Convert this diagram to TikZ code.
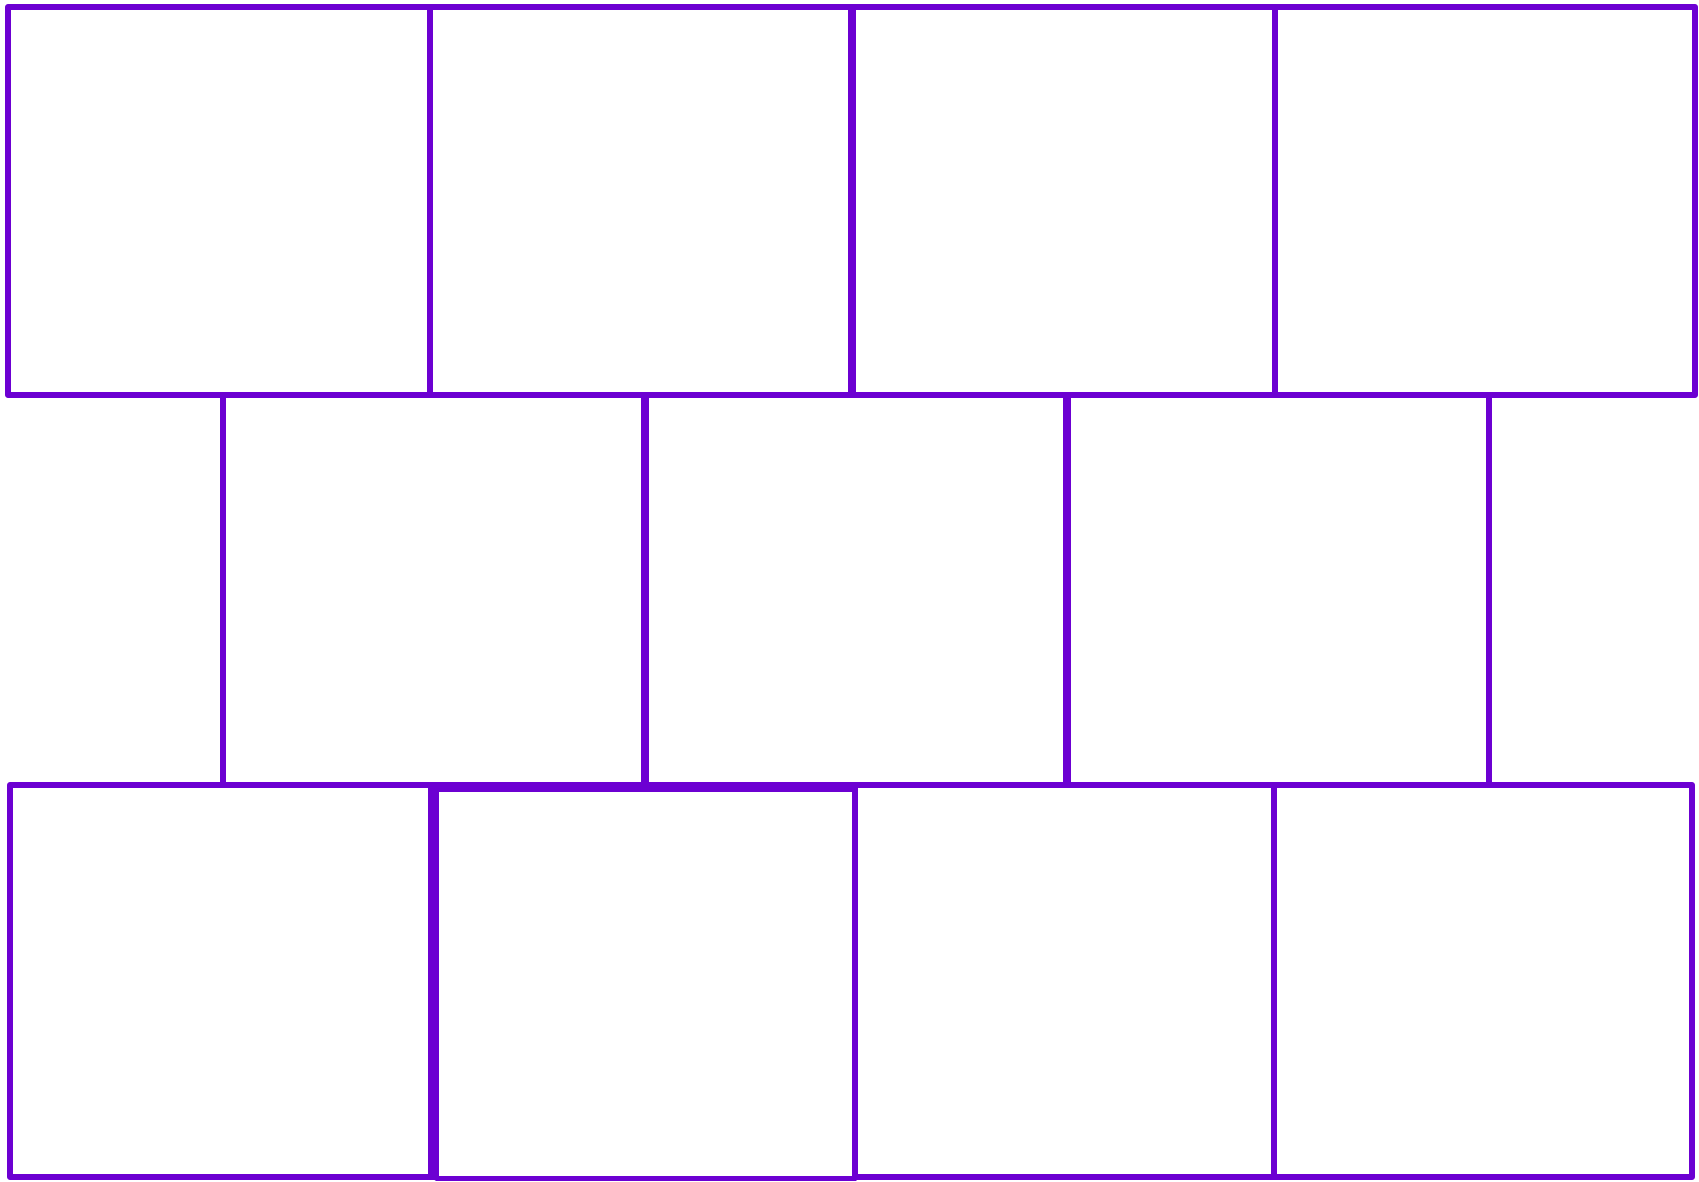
\documentclass[tikz,border=0pt]{standalone}
\usetikzlibrary{calc}
\definecolor{brickline}{RGB}{108,0,210}
\tikzset{
  brick/.style={draw=brickline, line width=6.5pt, line join=round},
  thinbrick/.style={draw=brickline, line width=5pt, line join=round},
  thickline/.style={draw=brickline, line width=8pt}
}
\begin{document}
\begin{tikzpicture}[x=1pt,y=-1pt]
\useasboundingbox (0,0) rectangle (1699,1182);
% row 1
\draw[brick] (8,7) rectangle (430,395);
\draw[brick] (430,7) rectangle (852,395);
\draw[brick] (852,7) rectangle (1275,395);
\draw[brick] (1275,7) rectangle (1695,395);
\draw[thickline] (852,7) -- (852,395);
% row 2
\draw[brick] (223,395) rectangle (645,785);
\draw[brick] (645,395) rectangle (1067,785);
\draw[brick] (1067,395) rectangle (1489,785);
\draw[thickline] (645,395) -- (645,785);
\draw[thickline] (1067,395) -- (1067,785);
% row 3
\draw[brick] (10,785) rectangle (431,1177);
\draw[thinbrick] (436,789) rectangle (855,1178);
\draw[thickline] (433,785) -- (433,1180);
\draw[brick] (855,785) rectangle (1274,1177);
\draw[brick] (1274,785) rectangle (1692,1177);
\end{tikzpicture}
\end{document}
